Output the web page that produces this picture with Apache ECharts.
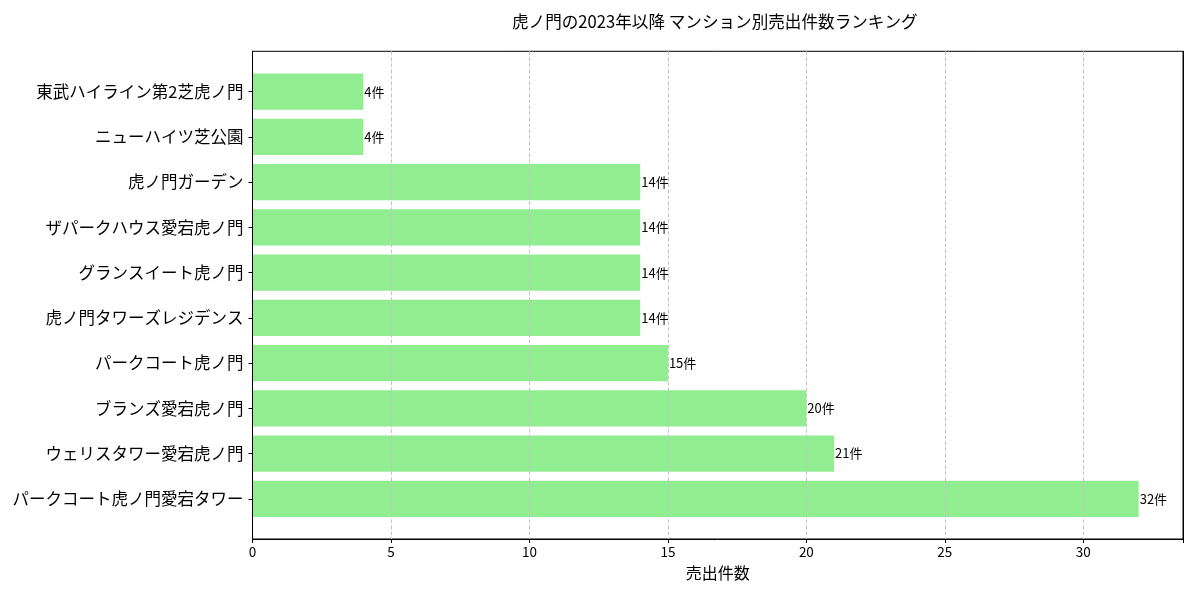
<!DOCTYPE html>
<html>
<head>
    <meta charset="utf-8">
    <title>虎ノ門 マンション別売出件数ランキング</title>
    <script src="https://cdn.jsdelivr.net/npm/echarts@6/dist/echarts.min.js"></script>
    <style>
        html, body { margin: 0; padding: 0; background: #fff; }
        #chart { width: 1193px; height: 593px; }
    </style>
</head>
<body>
<div id="chart"></div>
<script>
    // bottom to top, as drawn
    const mansions = [
        'パークコート虎ノ門愛宕タワー',
        'ウェリスタワー愛宕虎ノ門',
        'ブランズ愛宕虎ノ門',
        'パークコート虎ノ門',
        '虎ノ門タワーズレジデンス',
        'グランスイート虎ノ門',
        'ザパークハウス愛宕虎ノ門',
        '虎ノ門ガーデン',
        'ニューハイツ芝公園',
        '東武ハイライン第2芝虎ノ門'
    ];
    const counts = [32, 21, 20, 15, 14, 14, 14, 14, 4, 4];
    const xStep = 5;
    const xMax = 33.6;

    const font = "'Noto Sans CJK JP', 'Noto Sans', sans-serif";
    const chart = echarts.init(document.getElementById('chart'));

    // a bare black spine, drawn above the dashed grid
    const spine = (position) => ({
        gridIndex: 0, type: 'value', position: position, z: 6,
        axisLine: { show: true, lineStyle: { color: '#000', width: 1 } },
        axisTick: { show: false }, axisLabel: { show: false }, splitLine: { show: false }
    });

    chart.setOption({
        animation: false,
        textStyle: { fontFamily: font },
        title: {
            text: '虎ノ門の2023年以降 マンション別売出件数ランキング',
            left: 507,
            top: 8,
            textStyle: { fontSize: 16.6, fontWeight: 'normal', color: '#000', fontFamily: font }
        },
        grid: [
            // outer frame = matplotlib axes box
            { left: 252.5, right: 10, top: 51.3, bottom: 54, show: true, borderColor: '#000', borderWidth: 1 },
            // inner band area so categories are spaced like matplotlib's margins
            { left: 252.5, right: 10, top: 69, bottom: 71.6 }
        ],
        xAxis: [
            {
                gridIndex: 0, type: 'value', min: 0, max: xMax, interval: xStep, z: 5,
                name: '売出件数', nameLocation: 'middle', nameGap: 26,
                nameTextStyle: { fontSize: 16, color: '#000', fontFamily: font },
                axisLine: { show: true, lineStyle: { color: '#000', width: 1 } },
                axisTick: { show: true, length: 4, lineStyle: { color: '#000' } },
                axisLabel: { fontSize: 13.5, color: '#000', margin: 6,
                    formatter: v => (v % xStep === 0 ? v : '') },
                splitLine: { show: true, lineStyle: { color: '#c4c4c4', type: [4, 2], width: 1 } }
            },
            { gridIndex: 1, type: 'value', min: 0, max: xMax, show: false }
        ],
        yAxis: [
            spine('left'),
            {
                gridIndex: 1, type: 'category', data: mansions,
                axisLine: { show: false },
                axisTick: { show: true, alignWithLabel: true, length: 4, lineStyle: { color: '#000' } },
                axisLabel: { fontSize: 16.5, color: '#000', margin: 9 }
            },
            spine('right')
        ],
        series: [{
            type: 'bar',
            xAxisIndex: 1,
            yAxisIndex: 1,
            data: counts,
            barWidth: '80%',
            itemStyle: { color: '#90ee90' },
            label: {
                show: true, position: 'right', distance: 1,
                formatter: p => p.value + '件',
                fontSize: 13, color: '#000', fontFamily: font
            }
        }]
    });
</script>
</body>
</html>
